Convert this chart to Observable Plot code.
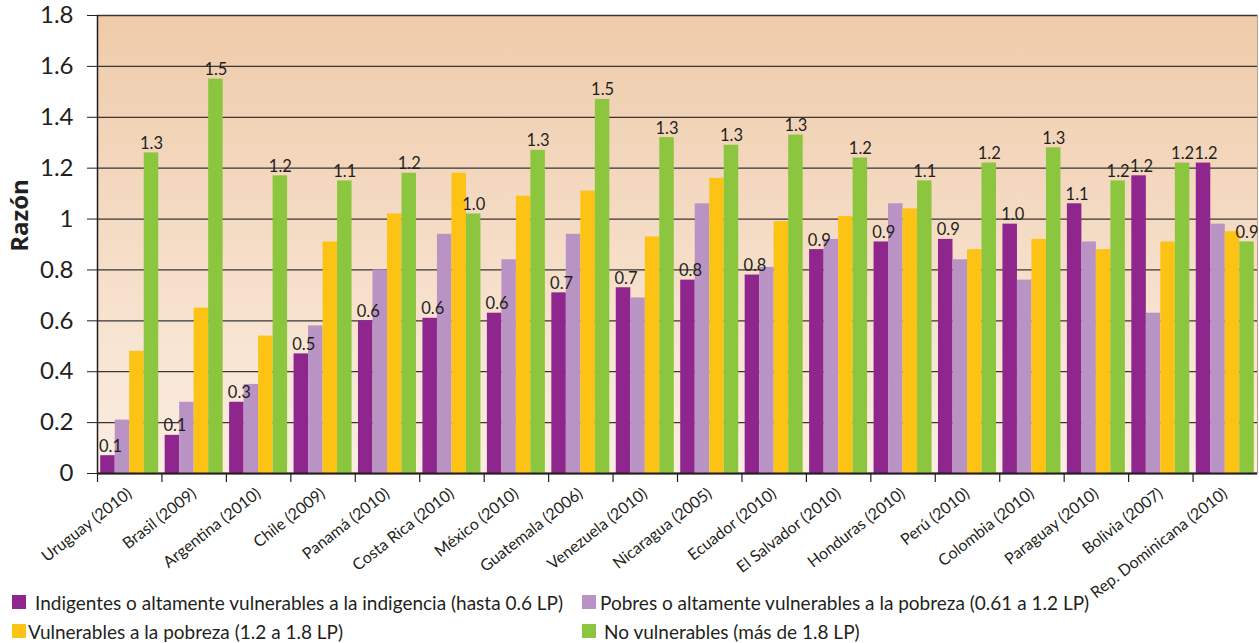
<!DOCTYPE html>
<html><head><meta charset="utf-8">
<script src="https://cdn.jsdelivr.net/npm/d3@7"></script>
<script src="https://cdn.jsdelivr.net/npm/@observablehq/plot@0.6"></script>
<style>
body{margin:0;background:#fff;font-family:Lato,sans-serif;color:#231f20;}
#legend{position:relative;height:43px;font-size:19px;font-family:Lato,sans-serif;color:#231f20;}
.item{position:absolute;display:flex;align-items:center;white-space:nowrap;height:28px;}
.sw{width:14px;height:14px;display:inline-block;flex:none;}
</style></head><body>
<div id="chart"></div><div id="legend"></div>
<script>
const countries = ["Uruguay (2010)", "Brasil (2009)", "Argentina (2010)", "Chile (2009)", "Panamá (2010)", "Costa Rica (2010)", "México (2010)", "Guatemala (2006)", "Venezuela (2010)", "Nicaragua (2005)", "Ecuador (2010)", "El Salvador (2010)", "Honduras (2010)", "Perú (2010)", "Colombia (2010)", "Paraguay (2010)", "Bolivia (2007)", "Rep. Dominicana (2010)"];
const indigentes    = [0.07, 0.15, 0.28, 0.47, 0.60, 0.61, 0.63, 0.71, 0.73, 0.76, 0.78, 0.88, 0.91, 0.92, 0.98, 1.06, 1.17, 1.22];
const pobres        = [0.21, 0.28, 0.35, 0.58, 0.80, 0.94, 0.84, 0.94, 0.69, 1.06, 0.81, 0.92, 1.06, 0.84, 0.76, 0.91, 0.63, 0.98];
const vulnerables   = [0.48, 0.65, 0.54, 0.91, 1.02, 1.18, 1.09, 1.11, 0.93, 1.16, 0.99, 1.01, 1.04, 0.88, 0.92, 0.88, 0.91, 0.95];
const noVulnerables = [1.26, 1.55, 1.17, 1.15, 1.18, 1.02, 1.27, 1.47, 1.32, 1.29, 1.33, 1.24, 1.15, 1.22, 1.28, 1.15, 1.22, 0.91];
const indigentesLabels    = ["0.1","0.1","0.3","0.5","0.6","0.6","0.6","0.7","0.7","0.8","0.8","0.9","0.9","0.9","1.0","1.1","1.2","1.2"];
const noVulnerablesLabels = ["1.3","1.5","1.2","1.1","1.2","1.0","1.3","1.5","1.3","1.3","1.3","1.2","1.1","1.2","1.3","1.2","1.2","0.9"];
const seriesNames = [
  "Indigentes o altamente vulnerables a la indigencia (hasta 0.6 LP)",
  "Pobres o altamente vulnerables a la pobreza (0.61 a 1.2 LP)",
  "Vulnerables a la pobreza (1.2 a 1.8 LP)",
  "No vulnerables (más de 1.8 LP)"
];
const seriesColors = ["#8e268d", "#b893c4", "#fcc314", "#8cc63f"];
const yTicks = [0, 0.2, 0.4, 0.6, 0.8, 1, 1.2, 1.4, 1.6, 1.8];
const yLabel = "Razón";

const seriesValues = [indigentes, pobres, vulnerables, noVulnerables];
const rows = countries.flatMap((c, i) => seriesNames.map((s, j) => ({country: c, series: j, value: seriesValues[j][i]})));

const W = 1259, H = 600, mL = 97, mR = 2, mT = 15, mB = 127;
const step = (W - mL - mR) / countries.length;
const bandW = step * 0.9;
const barW = bandW / 4;
const ink = "#231f20";

const marks = [
  Plot.frame({fill: "url(#bgGrad)", stroke: "#b9a08a", strokeWidth: 1}),
  Plot.gridY(yTicks, {stroke: "#3a3533", strokeOpacity: 1, strokeWidth: 1.3}),
];
seriesNames.forEach((s, j) => {
  marks.push(Plot.barY(rows.filter(d => d.series === j), {
    x: "country", y: "value", fill: seriesColors[j],
    insetLeft: j * barW, insetRight: (3 - j) * barW
  }));
});
marks.push(
  Plot.ruleY([0], {stroke: ink, strokeWidth: 2.2}),
  Plot.ruleX(countries, {x: d => d, dx: -step / 2, stroke: ink, strokeWidth: 1.2, insetTop: H - mT - mB, insetBottom: -9}),
  Plot.ruleX([countries[0]], {x: d => d, dx: -step / 2, stroke: ink, strokeWidth: 1.5}),
  Plot.text(countries, {x: d => d, y: (d, i) => indigentes[i], text: (d, i) => indigentesLabels[i],
    dx: -1.5 * barW + 2.5, dy: -4, lineAnchor: "bottom", fontSize: 16.5, fill: ink}),
  Plot.text(countries, {x: d => d, y: (d, i) => noVulnerables[i], text: (d, i) => noVulnerablesLabels[i],
    dx: 1.5 * barW, dy: -4, lineAnchor: "bottom", fontSize: 16.5, fill: ink}),
  Plot.axisY(yTicks, {tickSize: 10, tickPadding: 14, fontSize: 24, tickFormat: d => String(d), label: null, stroke: ink, fill: ink}),
  Plot.axisX({tickRotate: -38, tickSize: 0, tickPadding: 18, dx: 0, fontSize: 16, label: null, fill: ink}),
  Plot.text([yLabel], {text: d => d, frameAnchor: "left", textAnchor: "middle", dx: -77, dy: -29, rotate: -90,
    fontSize: 24, fontWeight: "bold", fontFamily: "Open Sans, sans-serif", fill: ink})
);

const chart = Plot.plot({
  width: W, height: H,
  marginLeft: mL, marginRight: mR, marginTop: mT, marginBottom: mB,
  style: {fontFamily: "Lato, sans-serif", background: "#fff", color: ink},
  x: {type: "band", domain: countries, paddingInner: 0.1, paddingOuter: 0.05, round: false, label: null},
  y: {domain: [0, 1.8], label: null},
  marks
});

const svg = d3.select(chart);
const defs = svg.insert("defs", ":first-child");
const grad = defs.append("linearGradient").attr("id", "bgGrad").attr("x1", 0).attr("y1", 0).attr("x2", 0).attr("y2", 1);
grad.append("stop").attr("offset", "0%").attr("stop-color", "#efcbaa");
grad.append("stop").attr("offset", "100%").attr("stop-color", "#fbeee2");
document.getElementById("chart").appendChild(chart);

const legendPos = [
  {left: 12, top: -12, gap: 9},
  {left: 582, top: -12, gap: 4},
  {left: 12, top: 17, gap: 2},
  {left: 582, top: 17, gap: 8}
];
const legend = document.getElementById("legend");
seriesNames.forEach((s, j) => {
  const it = document.createElement("div");
  it.className = "item";
  it.style.left = legendPos[j].left + "px";
  it.style.top = legendPos[j].top + "px";
  const sw = document.createElement("span");
  sw.className = "sw";
  sw.style.background = seriesColors[j];
  sw.style.marginRight = legendPos[j].gap + "px";
  const tx = document.createElement("span");
  tx.textContent = s;
  it.appendChild(sw); it.appendChild(tx);
  legend.appendChild(it);
});
</script>
</body></html>
